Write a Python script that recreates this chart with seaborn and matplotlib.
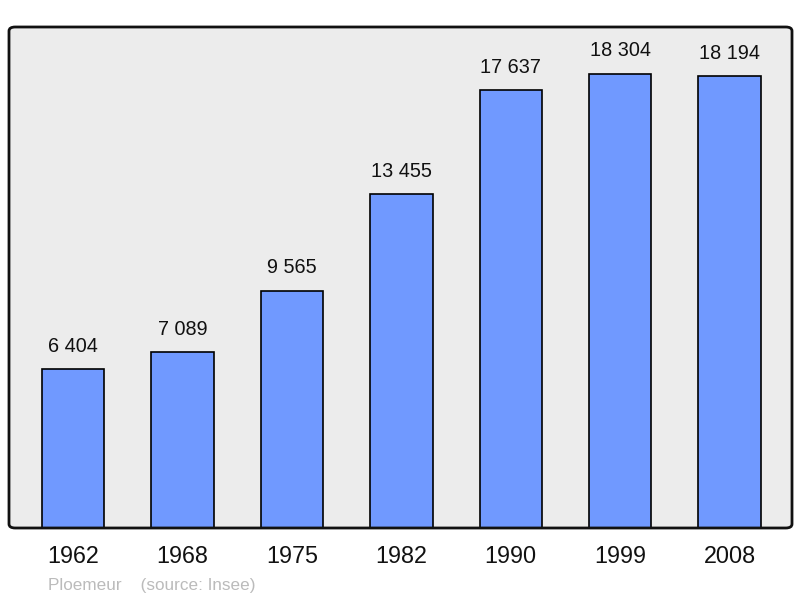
import matplotlib
matplotlib.use("Agg")
import matplotlib.pyplot as plt
from matplotlib.patches import FancyBboxPatch
import pandas as pd
import seaborn as sns

years = ["1962", "1968", "1975", "1982", "1990", "1999", "2008"]
population = [6404, 7089, 9565, 13455, 17637, 18304, 18194]
labels = ["6 404", "7 089", "9 565", "13 455", "17 637", "18 304", "18 194"]

sns.set_style("white")
plt.rcParams["font.family"] = ["Liberation Sans", "DejaVu Sans"]

df = pd.DataFrame({"year": years, "population": population})

fig = plt.figure(figsize=(8, 5.98), dpi=100)
ax = fig.add_axes([9 / 800, 1 - 528 / 598, 783 / 800, 501 / 598])
ax.set_facecolor("#ececec")

sns.barplot(data=df, x="year", y="population", color="#7099ff", saturation=1,
            width=0.57, edgecolor="black", linewidth=1.2, ax=ax)

for i, (v, lab) in enumerate(zip(population, labels)):
    ax.annotate(lab, (i, v), xytext=(0, 9.5), textcoords="offset points",
                ha="center", va="bottom", fontsize=14.3, color="#111111")

ax.set_xlim(-0.585, 6.57)
ax.set_ylim(0, 20180)
ax.set_xlabel("")
ax.set_ylabel("")
ax.set_yticks([])
ax.tick_params(axis="x", length=0, pad=12, labelsize=16.8, labelcolor="#111111")
for s in ax.spines.values():
    s.set_visible(False)

frame = FancyBboxPatch((0, 0), 1, 1, boxstyle="round,pad=0,rounding_size=0.008",
                       transform=ax.transAxes, fill=False, edgecolor="#111111",
                       linewidth=2, clip_on=False, zorder=5)
ax.add_patch(frame)

fig.text(48 / 800, 1 - 590 / 598, "Ploemeur    (source: Insee)", fontsize=12.3,
         color="#bbbbbb", ha="left", va="baseline")

fig.savefig("out.png", dpi=100)
